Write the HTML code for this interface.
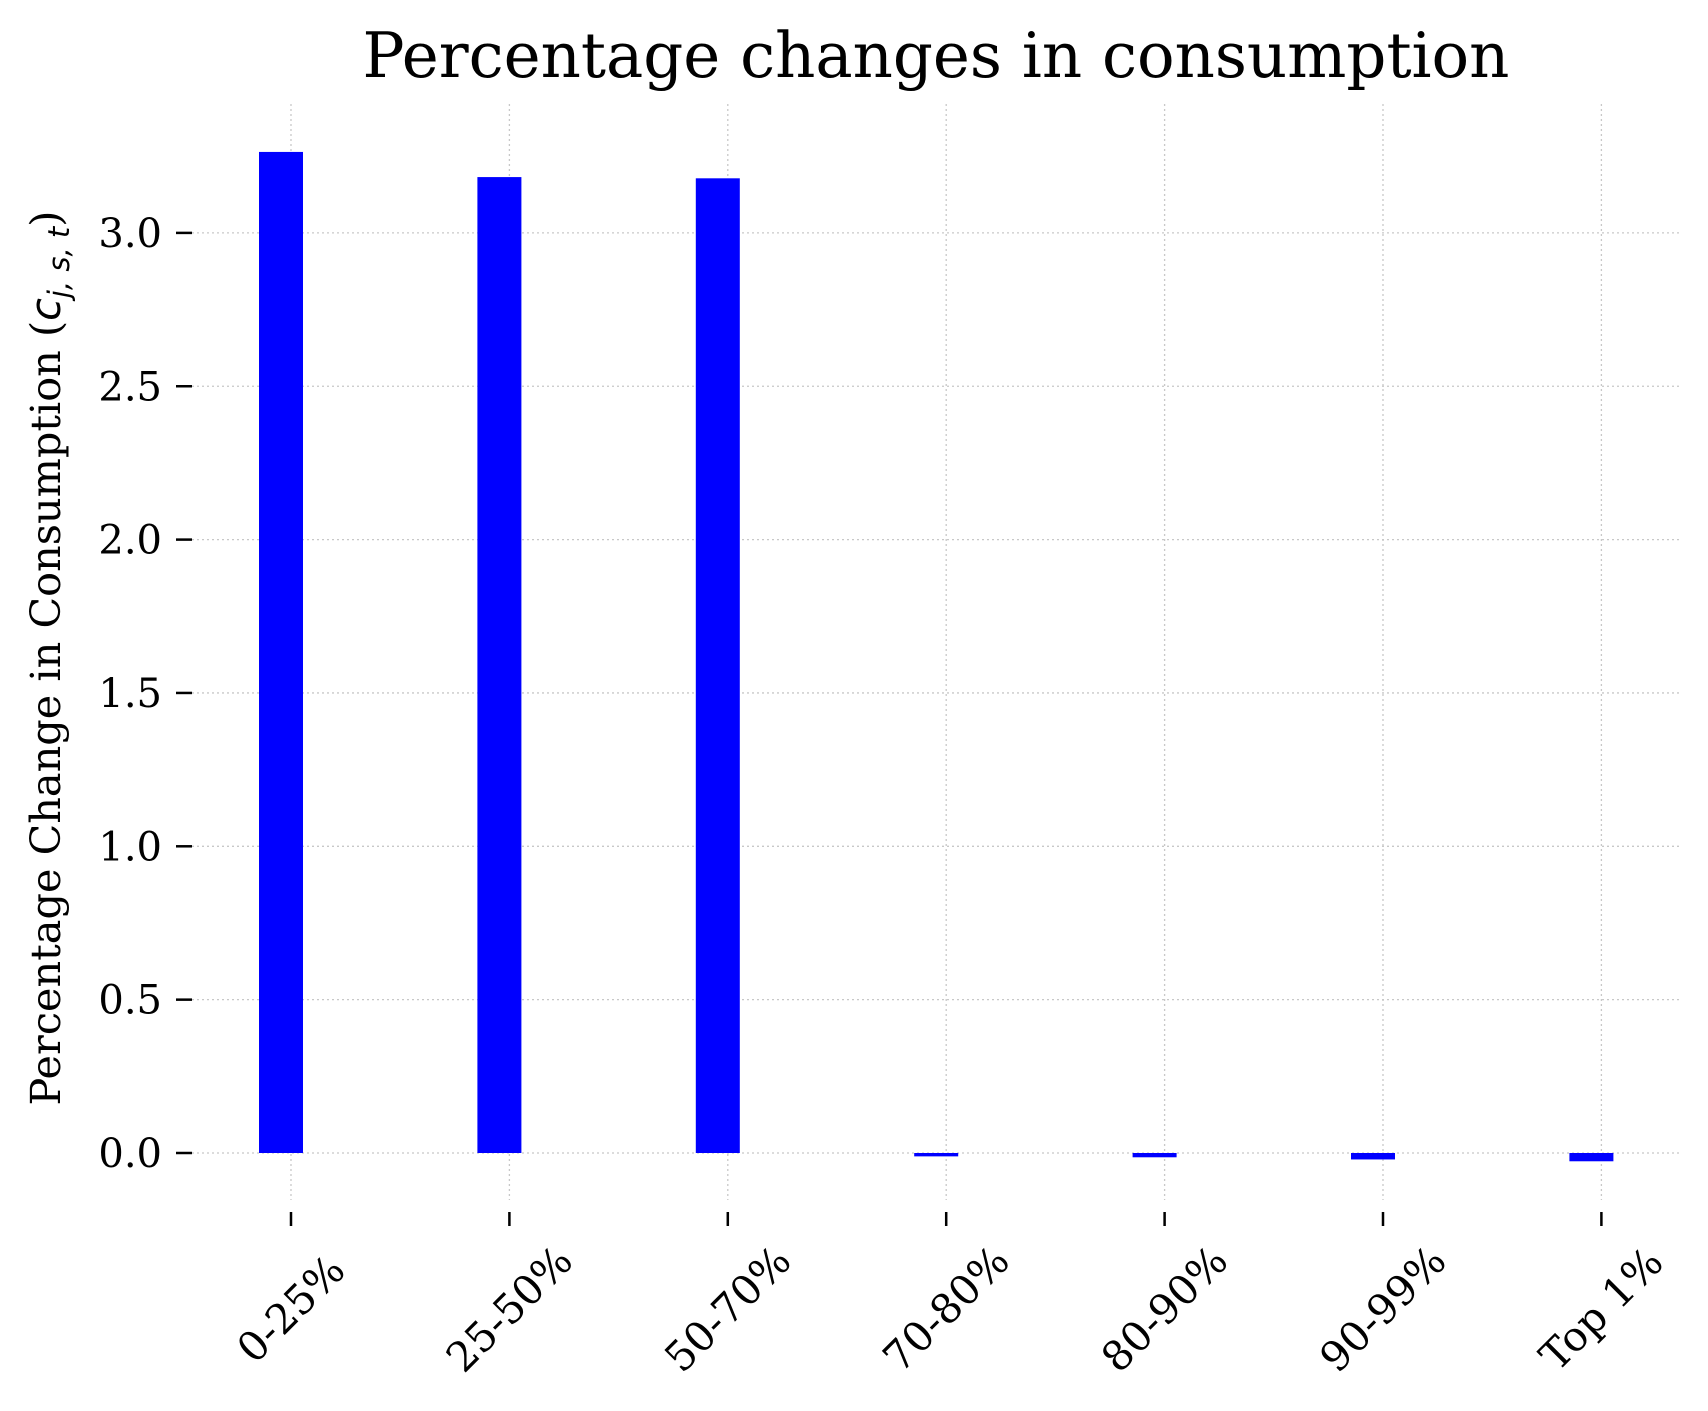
<!DOCTYPE html>
<html><head><meta charset="utf-8"><style>
html,body{margin:0;padding:0;background:#fff;}
svg{display:block;font-family:"DejaVu Serif","Liberation Serif",serif;}
</style></head><body>
<svg id="chart" width="1708" height="1411" viewBox="0 0 1708 1411">
<text x="936" y="77" font-size="62.5" text-anchor="middle">Percentage changes in consumption</text>
<g id="grid"></g><g id="bars"></g><g id="axes"></g>
<text transform="translate(60,658) rotate(-90)" font-size="41.4" text-anchor="middle">Percentage Change in Consumption (<tspan font-style="italic" font-family="DejaVu Sans, sans-serif">c</tspan><tspan font-style="italic" font-family="DejaVu Sans, sans-serif" font-size="29" dy="9">j, s, t</tspan><tspan dy="-9">)</tspan></text>
</svg>
<script>
const categories = ["0-25%","25-50%","50-70%","70-80%","80-90%","90-99%","Top 1%"];
const values = [3.264, 3.182, 3.178, -0.011, -0.014, -0.021, -0.027];
const yTicks = [0.0, 0.5, 1.0, 1.5, 2.0, 2.5, 3.0];
const yTickLabels = ["0.0","0.5","1.0","1.5","2.0","2.5","3.0"];

const NS = "http://www.w3.org/2000/svg";
const y0 = 1153, pxPerUnit = 306.7;
function yScale(v){ return y0 - v*pxPerUnit; }
function xScale(i){ return 291 + i*218.4; }
function mk(tag, attrs, parent){ const e=document.createElementNS(NS,tag); for(const k in attrs) e.setAttribute(k,attrs[k]); parent.appendChild(e); return e; }
const grid=document.getElementById('grid'), bars=document.getElementById('bars'), axes=document.getElementById('axes');

yTicks.forEach((t,i)=>{
  const y=yScale(t);
  const g=mk('line',{x1:192,x2:1682,y1:y,y2:y,stroke:'#c8c8c8','stroke-width':1.3,'stroke-dasharray':'2,3'},grid);
  
  
  const tk=mk('line',{x1:176,x2:192,y1:y,y2:y,stroke:'#000','stroke-width':2.5},axes);
  
  
  const lb=mk('text',{x:162,y:y+14,'font-size':40,'text-anchor':'end'},axes);
  lb.textContent=yTickLabels[i];
  
  
});
categories.forEach((c,i)=>{
  const x=xScale(i);
  const g=mk('line',{x1:x,x2:x,y1:104,y2:1200,stroke:'#c8c8c8','stroke-width':1.3,'stroke-dasharray':'2,3'},grid);
  
  
  const v=values[i];
  const top=Math.min(yScale(v),yScale(0)), h=Math.abs(yScale(v)-yScale(0));
  const r=mk('rect',{x:x-32,y:top,width:44,height:Math.max(h,1),fill:'#0000ff'},bars);
  
  
  const tk=mk('line',{x1:x,x2:x,y1:1212,y2:1226,stroke:'#000','stroke-width':2.5},axes);
  
  
  const lb=mk('text',{x:0,y:0,'font-size':41,'text-anchor':'middle','dominant-baseline':'central',transform:`translate(${x},${1309}) rotate(-45)`},axes);
  lb.textContent=c;
  
  
});
</script>
</body></html>
